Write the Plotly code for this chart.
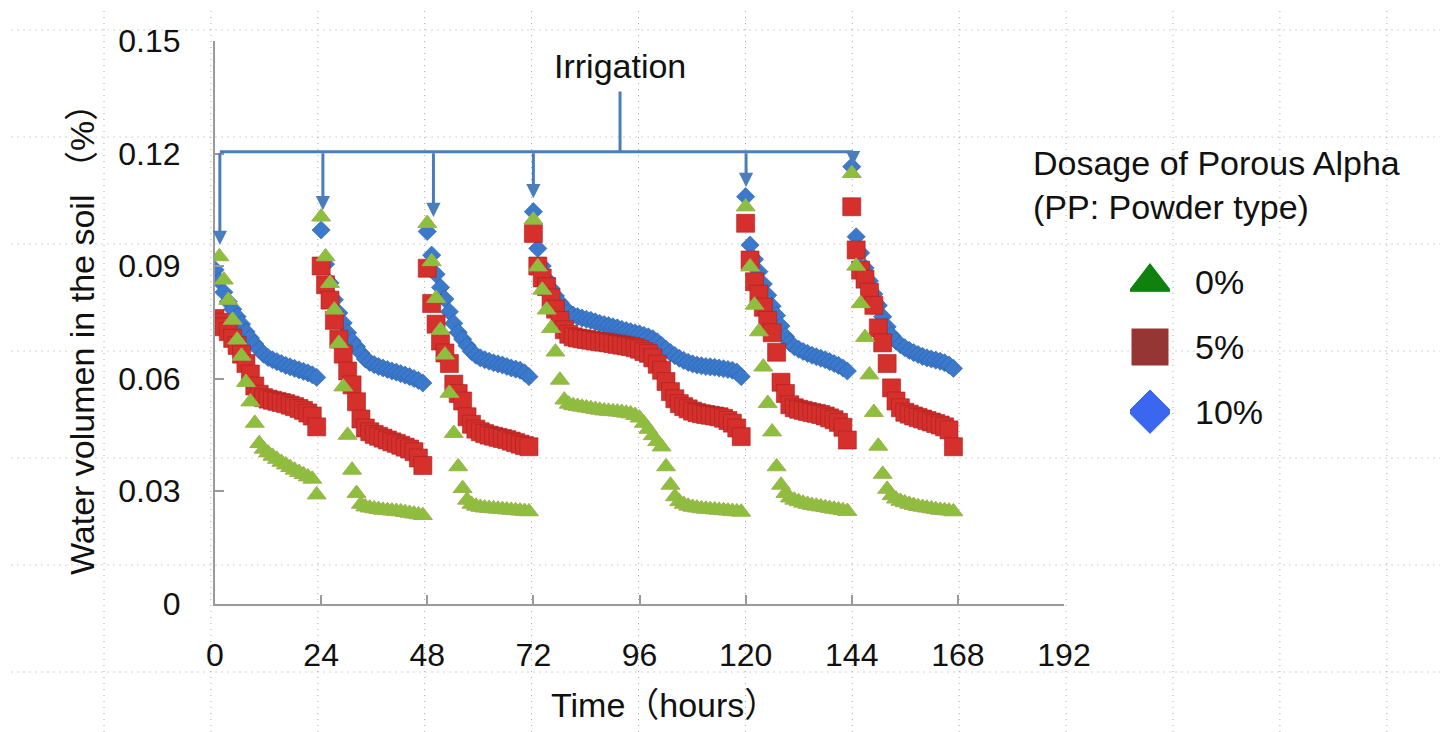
import plotly.graph_objects as go

# ---------------- data (hourly readings) ----------------
hours = list(range(168))

# 0 % Porous Alpha (triangles)
green_seg1 = [None, 0.0925, 0.0863, 0.0809, 0.0756, 0.0703, 0.0660, 0.0590, 0.0538, 0.0481, 0.0427, 0.0412,
              0.0402, 0.0393, 0.0385, 0.0377, 0.0370, 0.0363, 0.0356, 0.0350, 0.0344, 0.0338, 0.0332, 0.0290]
green_seg2 = [0.1031, 0.0925, 0.0854, 0.0783, 0.0694, 0.0578, 0.0449, 0.0356, 0.0294, 0.0265, 0.0258, 0.0255,
              0.0253, 0.0251, 0.0249, 0.0248, 0.0247, 0.0246, 0.0245, 0.0243, 0.0241, 0.0239, 0.0237, 0.0235]
green_seg3 = [0.1014, 0.0912, 0.0814, 0.0729, 0.0663, 0.0561, 0.0454, 0.0365, 0.0307, 0.0276, 0.0265, 0.0260,
              0.0257, 0.0255, 0.0254, 0.0253, 0.0252, 0.0251, 0.0250, 0.0249, 0.0248, 0.0247, 0.0246, 0.0245]
green_seg4 = [0.1023, 0.0898, 0.0836, 0.0783, 0.0734, 0.0671, 0.0596, 0.0543, 0.0532, 0.0528, 0.0526, 0.0524,
              0.0522, 0.0520, 0.0518, 0.0516, 0.0514, 0.0513, 0.0512, 0.0511, 0.0510, 0.0508, 0.0506, 0.0502,
              0.0495, 0.0481, 0.0465, 0.0448, 0.0432, 0.0418, 0.0365, 0.0316, 0.0285, 0.0272, 0.0265, 0.0260,
              0.0257, 0.0255, 0.0253, 0.0252, 0.0251, 0.0250, 0.0249, 0.0248, 0.0247, 0.0246, 0.0245, 0.0244]
green_seg5 = [0.1058, 0.0898, 0.0796, 0.0725, 0.0631, 0.0534, 0.0458, 0.0365, 0.0316, 0.0294, 0.0282, 0.0276,
              0.0272, 0.0268, 0.0265, 0.0262, 0.0260, 0.0258, 0.0256, 0.0254, 0.0252, 0.0250, 0.0248, 0.0246]
green_seg6 = [0.1147, 0.0900, 0.0800, 0.0710, 0.0610, 0.0510, 0.0420, 0.0345, 0.0305, 0.0288, 0.0279, 0.0273,
              0.0269, 0.0265, 0.0262, 0.0259, 0.0257, 0.0255, 0.0253, 0.0251, 0.0249, 0.0248, 0.0247, 0.0245]

# 5 % Porous Alpha (squares)
red_seg1 = [0.0760, 0.0750, 0.0738, 0.0725, 0.0707, 0.0688, 0.0665, 0.0640, 0.0612, 0.0580, 0.0558, 0.0549,
            0.0545, 0.0542, 0.0539, 0.0536, 0.0533, 0.0529, 0.0525, 0.0520, 0.0515, 0.0508, 0.0500, 0.0471]
red_seg2 = [0.0900, 0.0850, 0.0809, 0.0755, 0.0705, 0.0665, 0.0620, 0.0583, 0.0538, 0.0492, 0.0468, 0.0458,
            0.0451, 0.0446, 0.0441, 0.0436, 0.0431, 0.0427, 0.0422, 0.0417, 0.0412, 0.0405, 0.0388, 0.0368]
red_seg3 = [0.0894, 0.0800, 0.0745, 0.0700, 0.0668, 0.0640, 0.0585, 0.0560, 0.0540, 0.0498, 0.0478, 0.0465,
            0.0458, 0.0453, 0.0449, 0.0446, 0.0443, 0.0440, 0.0437, 0.0433, 0.0429, 0.0425, 0.0421, 0.0418]
red_seg4 = [0.0987, 0.0900, 0.0868, 0.0845, 0.0815, 0.0785, 0.0755, 0.0730, 0.0718, 0.0711, 0.0708, 0.0706,
            0.0704, 0.0702, 0.0700, 0.0698, 0.0697, 0.0695, 0.0693, 0.0691, 0.0689, 0.0687, 0.0685, 0.0682,
            0.0678, 0.0672, 0.0667, 0.0655, 0.0638, 0.0622, 0.0592, 0.0565, 0.0546, 0.0533, 0.0525, 0.0519,
            0.0513, 0.0509, 0.0506, 0.0504, 0.0502, 0.0500, 0.0498, 0.0494, 0.0488, 0.0481, 0.0468, 0.0445]
red_seg5 = [0.1014, 0.0916, 0.0858, 0.0825, 0.0790, 0.0755, 0.0722, 0.0670, 0.0590, 0.0560, 0.0530, 0.0522,
            0.0518, 0.0515, 0.0512, 0.0509, 0.0507, 0.0504, 0.0500, 0.0495, 0.0490, 0.0483, 0.0470, 0.0436]
red_seg6 = [0.1058, 0.0943, 0.0889, 0.0865, 0.0830, 0.0795, 0.0735, 0.0695, 0.0640, 0.0575, 0.0540, 0.0522,
            0.0510, 0.0505, 0.0500, 0.0496, 0.0492, 0.0488, 0.0484, 0.0480, 0.0476, 0.0471, 0.0463, 0.0418]

# 10 % Porous Alpha (diamonds)
blue_seg1 = [0.0890, 0.0860, 0.0830, 0.0805, 0.0785, 0.0765, 0.0745, 0.0725, 0.0708, 0.0692, 0.0677, 0.0665,
             0.0656, 0.0650, 0.0645, 0.0640, 0.0635, 0.0631, 0.0627, 0.0623, 0.0619, 0.0615, 0.0610, 0.0603]
blue_seg2 = [0.0996, 0.0905, 0.0855, 0.0810, 0.0775, 0.0748, 0.0722, 0.0700, 0.0685, 0.0668, 0.0652, 0.0643,
             0.0637, 0.0632, 0.0628, 0.0624, 0.0620, 0.0617, 0.0613, 0.0609, 0.0605, 0.0600, 0.0595, 0.0588]
blue_seg3 = [0.0992, 0.0929, 0.0878, 0.0843, 0.0812, 0.0778, 0.0747, 0.0723, 0.0705, 0.0688, 0.0672, 0.0662,
             0.0655, 0.0650, 0.0646, 0.0642, 0.0639, 0.0636, 0.0632, 0.0628, 0.0625, 0.0622, 0.0615, 0.0605]
blue_seg4 = [0.1045, 0.0947, 0.0900, 0.0865, 0.0840, 0.0820, 0.0803, 0.0788, 0.0777, 0.0769, 0.0765, 0.0761,
             0.0758, 0.0755, 0.0751, 0.0747, 0.0744, 0.0741, 0.0738, 0.0735, 0.0731, 0.0728, 0.0725, 0.0722,
             0.0719, 0.0715, 0.0711, 0.0706, 0.0698, 0.0688, 0.0678, 0.0669, 0.0661, 0.0654, 0.0648, 0.0643,
             0.0639, 0.0636, 0.0634, 0.0632, 0.0631, 0.0630, 0.0628, 0.0626, 0.0624, 0.0622, 0.0617, 0.0605]
blue_seg5 = [0.1085, 0.0956, 0.0918, 0.0885, 0.0852, 0.0822, 0.0793, 0.0768, 0.0740, 0.0712, 0.0695, 0.0685,
             0.0678, 0.0672, 0.0667, 0.0662, 0.0658, 0.0654, 0.0650, 0.0645, 0.0640, 0.0635, 0.0628, 0.0620]
blue_seg6 = [0.1165, 0.0978, 0.0935, 0.0895, 0.0860, 0.0825, 0.0795, 0.0765, 0.0738, 0.0715, 0.0700, 0.0690,
             0.0682, 0.0675, 0.0669, 0.0664, 0.0659, 0.0655, 0.0652, 0.0649, 0.0646, 0.0642, 0.0636, 0.0627]

green_0 = green_seg1 + green_seg2 + green_seg3 + green_seg4 + green_seg5 + green_seg6
red_5 = red_seg1 + red_seg2 + red_seg3 + red_seg4 + red_seg5 + red_seg6
blue_10 = blue_seg1 + blue_seg2 + blue_seg3 + blue_seg4 + blue_seg5 + blue_seg6

legend_labels = ["0%", "5%", "10%"]
x_ticks = [0, 24, 48, 72, 96, 120, 144, 168, 192]

# irrigation events (hour) and where each arrow ends
irrigation_hours = [1.1, 24.4, 49.4, 72.0, 120.1, 144.3]
arrow_tip_values = [0.0956, 0.1049, 0.1031, 0.1081, 0.1111, 0.1169]
bracket_level = 0.1205
bracket_stem_top = 0.1365
bracket_stem_hour = 91.6

# ---------------- style ----------------
FONT = "Liberation Sans, Arial, Noto Sans CJK JP, sans-serif"
W, H = 1440, 732
ARROW_BLUE = "#4a7ebb"
AXIS_GRAY = "#9a9a9a"
TEXT = "#111111"

fig = go.Figure()

fig.add_trace(go.Scatter(x=hours, y=blue_10, mode="markers", name="10%",
                         marker=dict(symbol="diamond", size=14, color="#3b79cc", opacity=1,
                                     line=dict(width=0.6, color="#2a5ea8")),
                         xaxis="x", yaxis="y"))
fig.add_trace(go.Scatter(x=hours, y=red_5, mode="markers", name="5%",
                         marker=dict(symbol="square", size=18, color="#d5302c", opacity=1,
                                     line=dict(width=0.6, color="#a82020")),
                         xaxis="x", yaxis="y"))
fig.add_trace(go.Scatter(x=hours, y=green_0, mode="markers", name="0%",
                         marker=dict(symbol="triangle-up", size=16.5, color="#8cc03c", opacity=1,
                                     line=dict(width=1, color="#9fb050")),
                         xaxis="x", yaxis="y"))

# legend keys drawn on a small categorical axis
fig.add_trace(go.Scatter(x=[0, 0, 0], y=legend_labels, mode="markers",
                         marker=dict(symbol=["triangle-up", "square", "diamond"],
                                     size=[40, 38, 35], opacity=1,
                                     color=["#10800f", "#953634", "#3a66f0"]),
                         xaxis="x2", yaxis="y2", hoverinfo="skip"))

# page background dotted grid (slide grid)
shapes = []
for k in range(13):
    px = 104 + 106.9 * k
    shapes.append(dict(type="line", xref="paper", yref="paper", x0=px / W, x1=px / W, y0=0, y1=0.99,
                       line=dict(color="#a8a8a8", width=1, dash="1px,5px"), layer="below"))
for k in range(7):
    py = 30 + 107.0 * k
    shapes.append(dict(type="line", xref="paper", yref="paper", x0=0.008, x1=1, y0=1 - py / H, y1=1 - py / H,
                       line=dict(color="#a8a8a8", width=1, dash="1px,5px"), layer="below"))
# irrigation bracket
shapes.append(dict(type="line", xref="x", yref="y", x0=irrigation_hours[0], x1=irrigation_hours[-1],
                   y0=bracket_level, y1=bracket_level, line=dict(color=ARROW_BLUE, width=3)))
shapes.append(dict(type="line", xref="x", yref="y", x0=bracket_stem_hour, x1=bracket_stem_hour,
                   y0=bracket_level, y1=bracket_stem_top, line=dict(color=ARROW_BLUE, width=3)))

annotations = []
for h, tip in zip(irrigation_hours, arrow_tip_values):
    annotations.append(dict(x=h, y=tip, ax=h, ay=bracket_level, xref="x", yref="y", axref="x", ayref="y",
                            text="", showarrow=True, arrowhead=2, arrowsize=0.95, arrowwidth=3,
                            arrowcolor=ARROW_BLUE, standoff=0))
annotations.append(dict(x=bracket_stem_hour, y=0.1433, xref="x", yref="y", text="Irrigation",
                        showarrow=False, font=dict(size=34, color=TEXT), xanchor="center", yanchor="middle"))
annotations.append(dict(x=82 / W, y=1 - 331 / H, xref="paper", yref="paper", text="Water volumen in the soil （%）",
                        textangle=-90, showarrow=False, font=dict(size=34, color=TEXT),
                        xanchor="center", yanchor="middle"))
annotations.append(dict(x=664 / W, y=1 - 705 / H, xref="paper", yref="paper", text="Time（hours）",
                        showarrow=False, font=dict(size=34, color=TEXT), xanchor="center", yanchor="middle"))
annotations.append(dict(x=1031 / W, y=1 - 142 / H, xref="paper", yref="paper",
                        text="Dosage of Porous Alpha<br>(PP: Powder type)", align="left",
                        showarrow=False, font=dict(size=34, color=TEXT), xanchor="left", yanchor="top"))

axis_common = dict(showline=True, linecolor=AXIS_GRAY, linewidth=2, ticks="inside", ticklen=9,
                   tickwidth=2, tickcolor=AXIS_GRAY, showgrid=False, zeroline=False,
                   tickfont=dict(size=32, color=TEXT, family=FONT))

fig.update_layout(
    width=W, height=H,
    margin=dict(l=0, r=0, t=0, b=0, autoexpand=False),
    paper_bgcolor="white", plot_bgcolor="rgba(0,0,0,0)",
    showlegend=False,
    font=dict(family=FONT, size=32, color=TEXT),
    xaxis=dict(domain=[215 / W, 1064 / W], range=[0, 192], tickvals=x_ticks, anchor="y",
               ticklabelstandoff=22, **axis_common),
    yaxis=dict(domain=[1 - 603.5 / H, 1 - 41 / H], range=[0, 0.15], tick0=0, dtick=0.03, anchor="x",
               ticklabelstandoff=26, **axis_common),
    xaxis2=dict(domain=[1130 / W, 1170 / W], range=[-1, 1], visible=False, anchor="y2", fixedrange=True),
    yaxis2=dict(domain=[1 - 444 / H, 1 - 250 / H], anchor="x2", side="right", type="category",
                categoryorder="array", categoryarray=legend_labels, range=[2.5, -0.5],
                showline=False, showgrid=False, zeroline=False, ticks="", ticklabelstandoff=24,
                tickfont=dict(size=34, color=TEXT, family=FONT)),
    shapes=shapes,
    annotations=annotations,
)

fig.write_html("out.html", config={"displayModeBar": False},
               post_script="document.body.style.margin='0';document.body.style.overflow='hidden';")
